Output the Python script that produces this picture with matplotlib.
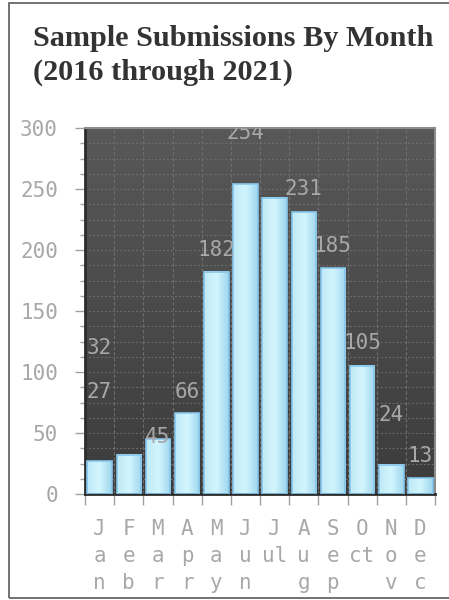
import matplotlib.pyplot as plt
from matplotlib.patches import Rectangle
from matplotlib.colors import LinearSegmentedColormap
import numpy as np

# data
months = ["J\na\nn", "F\ne\nb", "M\na\nr", "A\np\nr", "M\na\ny", "J\nu\nn",
          "J\nul\n ", "A\nu\ng", "S\ne\np", "O\nct\n ", "N\no\nv", "D\ne\nc"]
counts = [27, 32, 45, 66, 182, 254, 243, 231, 185, 105, 24, 13]

# value labels as they sit in the reference (slot index, height)
label_text = ["27", "32", "45", "66", "182", "254", "231", "185", "105", "24", "13"]
label_slot = [0, 0, 2, 3, 4, 5, 7, 8, 9, 10, 11]
label_y = [84, 120, 47, 84, 200, 296, 250, 203, 124, 65, 31]

title = "Sample Submissions By Month\n(2016 through 2021)"

W, H = 449, 600
fig = plt.figure(figsize=(W / 100, H / 100), dpi=100)
fig.patch.set_facecolor("white")

# outer frame (cut off on the right)
frame = Rectangle((8.5 / W, 2.5 / H), 1.0, 1 - 5.0 / H, transform=fig.transFigure,
                  fill=False, edgecolor="#5a5a5a", linewidth=1.2)
fig.patches.append(frame)

fig.text(33 / W, 1 - 25 / H, title, fontfamily="Liberation Serif", fontweight="bold",
         fontsize=21.8, color="#333333", va="top", ha="left", linespacing=1.3)

ax = fig.add_axes([85 / W, 106 / H, 350 / W, 366 / H])
n = len(counts)
ax.set_xlim(0, n)
ax.set_ylim(0, 300)

# background gradient
bg = LinearSegmentedColormap.from_list("bg", ["#3c3c3c", "#585858"])
ax.imshow(np.linspace(0, 1, 100).reshape(-1, 1), cmap=bg, origin="lower",
          extent=[0, n, 0, 300], aspect="auto", zorder=0)

# grid
for yv in np.arange(12.5, 300, 12.5):
    ax.axhline(yv, color="#707070", lw=0.8, ls=(0, (1.5, 2)), zorder=1)
for xv in range(1, n):
    ax.axvline(xv, color="#6e6e6e", lw=0.8, ls=(0, (3, 2)), zorder=1)

# bars with a horizontal gradient
barcm = LinearSegmentedColormap.from_list("bar", ["#bfe9f7", "#d3f5fd", "#9fd7ef"])
grad = np.linspace(0, 1, 50).reshape(1, -1)
xs = np.arange(n) + 0.5
bars = ax.bar(xs, counts, width=0.84, facecolor="none", edgecolor="#86c6ea",
              linewidth=1.2, zorder=3)
for b in bars:
    x0, w, h = b.get_x(), b.get_width(), b.get_height()
    ax.imshow(grad, cmap=barcm, extent=[x0, x0 + w, 0, h], aspect="auto", zorder=2)
ax.set_xlim(0, n)
ax.set_ylim(0, 300)

for t, s, yv in zip(label_text, label_slot, label_y):
    ax.text(s + 0.5, yv, t, ha="center", va="center", fontfamily="DejaVu Sans Mono",
            fontsize=15, color="#a8a8a8", zorder=4, clip_on=True)

# axes styling
for side in ["left", "bottom"]:
    ax.spines[side].set_color("#2c2c2c")
    ax.spines[side].set_linewidth(2)
for side in ["top", "right"]:
    ax.spines[side].set_color("#8c8c8c")
    ax.spines[side].set_linewidth(1.5)

ax.set_yticks(np.arange(0, 301, 50))
ax.set_yticks(np.arange(0, 301, 12.5), minor=True)
ax.tick_params(axis="y", which="major", length=7.5, width=1, color="#a0a0a0",
               labelcolor="#a8a8a8", labelsize=15, pad=12)
ax.tick_params(axis="y", which="minor", length=3.5, width=1, color="#a0a0a0")
for lab in ax.get_yticklabels():
    lab.set_fontfamily("DejaVu Sans Mono")

ax.set_xticks(np.arange(0, n + 1))
ax.set_xticklabels([])
ax.set_xticks(xs, minor=True)
ax.set_xticklabels(months, minor=True, fontfamily="DejaVu Sans Mono", fontsize=15,
                   color="#a8a8a8", linespacing=1.45)
ax.tick_params(axis="x", which="major", length=8, width=1, color="#a0a0a0")
ax.tick_params(axis="x", which="minor", length=0, pad=18)

fig.savefig("out.png", dpi=100)
